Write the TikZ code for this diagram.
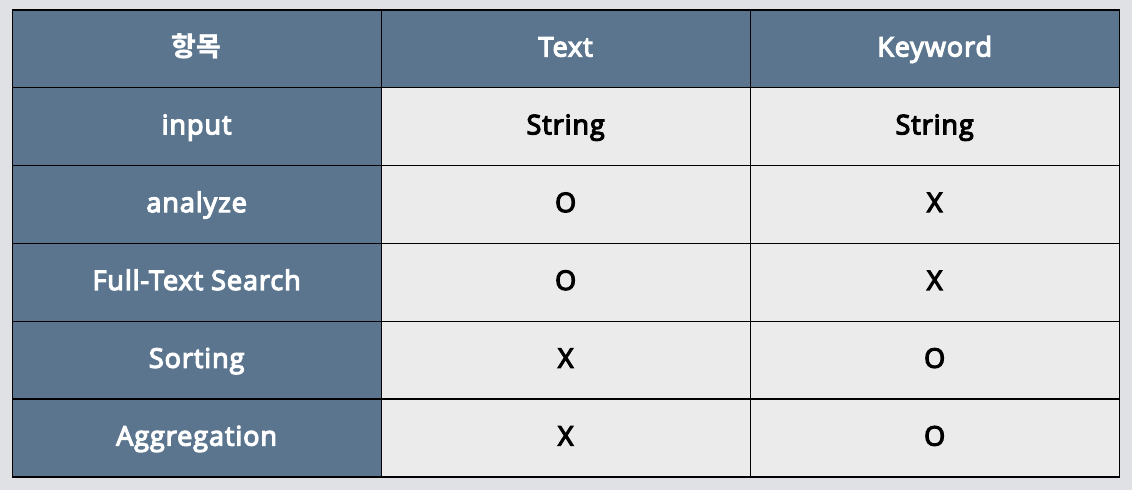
\documentclass[tikz,border=0pt]{standalone}
\usepackage{fontspec}
\setmainfont{Open Sans}[UprightFeatures={FakeBold=4.5}, LetterSpace=3.5]
\newfontfamily\krfont{Noto Sans CJK KR}
\definecolor{bgc}{HTML}{E0E1E4}
\definecolor{hdr}{HTML}{5B758F}
\definecolor{cellc}{HTML}{EBEBEB}
\tikzset{
  cellbase/.style={draw=black, line width=1.3pt, minimum width=369pt, minimum height=77.83pt, inner sep=0pt, anchor=north west, font=\fontsize{27}{30}\selectfont, text height=19pt, text depth=3.8pt},
  hcell/.style={cellbase, fill=hdr, text=white},
  dcell/.style={cellbase, fill=cellc, text=black},
}
\begin{document}
\begin{tikzpicture}[x=1pt,y=1pt]
\fill[bgc] (0,0) rectangle (1132,490);
\useasboundingbox (0,0) rectangle (1132,490);
% header row
\node[hcell] (h1) at (11.5,480.7) {\krfont\bfseries 항목};
\node[hcell] (h2) at (380.5,480.7) {Text};
\node[hcell] (h3) at (749.5,480.7) {Keyword};
% rows
\foreach \i/\lab/\a/\b in {1/input/String/String, 2/analyze/O/X, 3/Full-Text Search/O/X, 4/Sorting/X/O, 5/Aggregation/X/O}{
  \node[hcell] (r\i c1) at (11.5,{480.7-77.83*\i}) {\lab};
  \node[dcell] (r\i c2) at (380.5,{480.7-77.83*\i}) {\a};
  \node[dcell] (r\i c3) at (749.5,{480.7-77.83*\i}) {\b};
}
\end{tikzpicture}
\end{document}
